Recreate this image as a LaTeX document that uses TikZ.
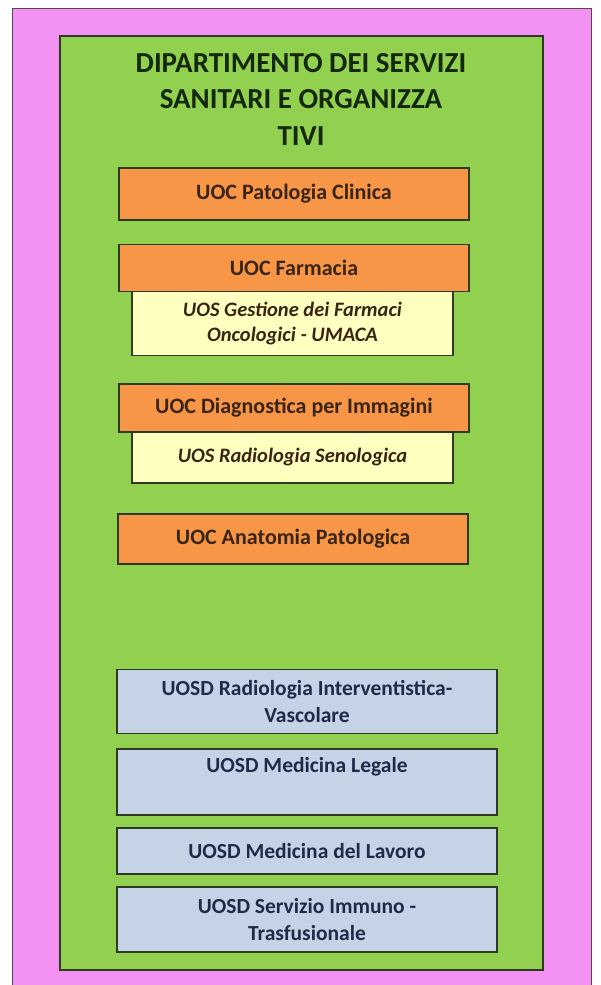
\documentclass[tikz,border=0pt]{standalone}
\usepackage{fontspec}
\setmainfont{Carlito}
\definecolor{pinkbg}{HTML}{F291F2}
\definecolor{deptgreen}{HTML}{92D050}
\definecolor{uocorange}{HTML}{F79646}
\definecolor{uosyellow}{HTML}{FFFFC0}
\definecolor{uosdblue}{HTML}{C5D3E6}
\definecolor{edge}{HTML}{2E3A24}
\definecolor{titleink}{HTML}{14280C}
\definecolor{orangeink}{HTML}{3A2414}
\definecolor{blueink}{HTML}{1E2A48}
\begin{document}
\begin{tikzpicture}[x=1pt,y=-1pt,
  unitbox/.style={draw=edge, line width=1.4pt, inner sep=0pt, align=center,
    font=\bfseries\fontsize{22}{26}\selectfont},
  uoc/.style={unitbox, fill=uocorange, text=orangeink, minimum width=350pt},
  uos/.style={unitbox, fill=uosyellow, text=orangeink, minimum width=321pt,
    font=\bfseries\itshape\fontsize{20.5}{25}\selectfont},
  uosd/.style={unitbox, fill=uosdblue, text=blueink, minimum width=380pt,
    font=\bfseries\fontsize{21.5}{26.5}\selectfont},
  title/.style={text=titleink, font=\bfseries\fontsize{29}{36.5}\selectfont, align=center}
]
\useasboundingbox (0,0) rectangle (600,985);
% outer frame and department panel
\draw[fill=pinkbg, draw=black!70, line width=0.8pt] (12,8) rectangle (591,992);
\draw[fill=deptgreen, draw=edge, line width=1.6pt] (60,36) rectangle (543,970);
\node[title] (dept) at (301,99) {DIPARTIMENTO DEI SERVIZI\\SANITARI E ORGANIZZA\\TIVI};
% complex operative units with their simple units
\node[uoc, minimum height=52pt] (patclin) at (294,194) {UOC Patologia Clinica};
\node[uos, minimum height=64pt] (umaca) at (292.5,323.5) {UOS Gestione dei Farmaci\\Oncologici - UMACA};
\node[uoc, minimum height=47pt] (farm) at (294,268) {UOC Farmacia};
\node[uos, minimum height=51pt] (seno) at (292.5,457.5) {UOS Radiologia Senologica};
\node[uoc, minimum height=48pt] (diag) at (294,408) {UOC Diagnostica per Immagini};
\node[uoc, minimum height=50pt] (anat) at (293,539) {UOC Anatomia Patologica};
% departmental simple units
\node[uosd, minimum height=64pt] (radint) at (307,701.5) {UOSD Radiologia Interventistica-\\Vascolare};
\node[uosd, minimum height=66pt] (medleg) at (307,782) {UOSD Medicina Legale\\\strut};
\node[uosd, minimum height=46pt] (medlav) at (307,851) {UOSD Medicina del Lavoro};
\node[uosd, minimum height=65pt] (trasf) at (307,919.5) {UOSD Servizio Immuno -\\Trasfusionale};
\end{tikzpicture}
\end{document}
